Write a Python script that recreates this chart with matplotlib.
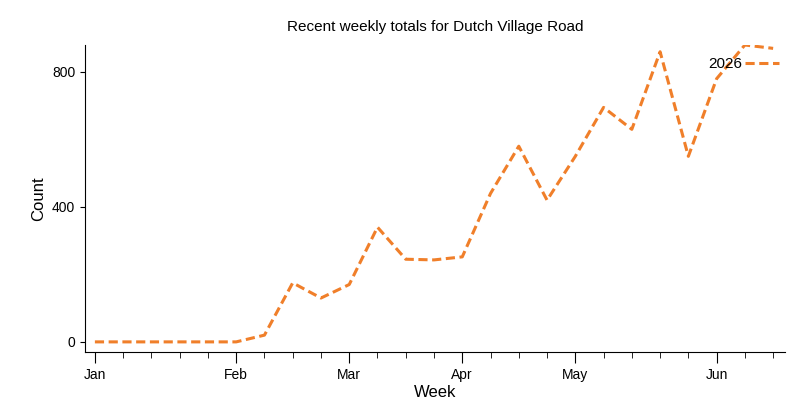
import matplotlib.pyplot as plt

plt.rcParams["font.family"] = ["Liberation Sans", "DejaVu Sans"]

# weekly totals, one point per week starting in early January
weeks = list(range(25))
counts = [0, 0, 0, 0, 0, 0, 20, 175, 130, 170, 340, 245, 243, 252, 440,
          580, 420, 550, 695, 630, 860, 550, 780, 880, 870]
month_pos = [0, 5, 9, 13, 17, 22]
month_labels = ["Jan", "Feb", "Mar", "Apr", "May", "Jun"]

fig = plt.figure(figsize=(7.96, 4.18), dpi=100)
ax = fig.add_axes([85 / 796, 1 - 352 / 418, 700 / 796, 307 / 418])

ax.plot(weeks, counts, color="#f07f2a", lw=2.2, ls=(0, (3, 1.5)), label="2026")

ax.set_xlim(-0.35, 24.42)
ax.set_ylim(-30, 880)
ax.set_yticks([0, 400, 800])
ax.set_xticks(month_pos)
ax.set_xticklabels(month_labels)
ax.set_xticks(weeks, minor=True)
ax.tick_params(axis="both", labelsize=10)
ax.tick_params(axis="x", which="minor", length=4)
ax.tick_params(axis="x", which="major", length=8)

for s in ["top", "right"]:
    ax.spines[s].set_visible(False)

ax.set_xlabel("Week", fontsize=12, labelpad=2)
ax.set_ylabel("Count", fontsize=12)
ax.set_title("Recent weekly totals for Dutch Village Road", fontsize=11, pad=10)

ax.legend(loc="upper right", frameon=False, fontsize=11, handlelength=2.2,
          markerfirst=False, handletextpad=0.2,
          borderaxespad=0.0, bbox_to_anchor=(1.0, 0.98))

fig.savefig("out.png")
